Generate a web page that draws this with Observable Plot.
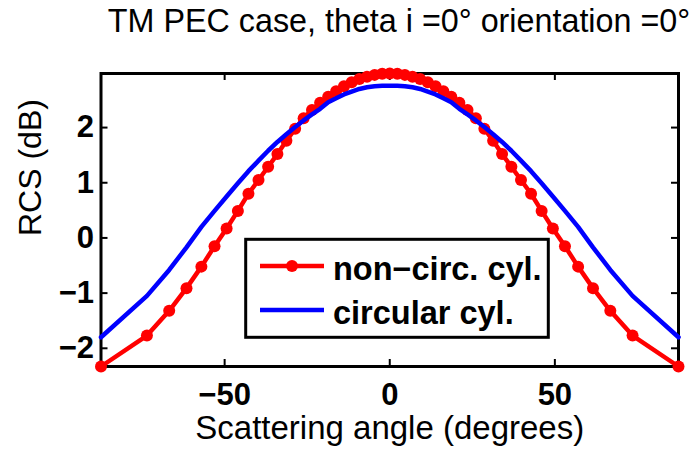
<!DOCTYPE html>
<html><head><meta charset="utf-8">
<script src="https://cdn.jsdelivr.net/npm/d3@7"></script>
<script src="https://cdn.jsdelivr.net/npm/@observablehq/plot@0.6"></script>
<style>
body{margin:0;background:#fff;}
#wrap{position:relative;width:694px;height:449px;overflow:hidden;font-family:"Liberation Sans",Arial,sans-serif;background:#fff;}
#title{position:absolute;top:0;left:0;width:694px;height:45px;}
#title span{position:absolute;left:399px;top:3px;transform:translateX(-50%);white-space:nowrap;font-size:32.3px;color:#000;}
#chart{position:absolute;top:45px;left:0;}
#legend{position:absolute;left:0;top:0;}
</style></head>
<body><div id="wrap"><div id="title"><span>TM PEC case, theta i =0° orientation =0°</span></div><div id="chart"></div>
<svg id="legend" width="694" height="449" font-family="Liberation Sans, Arial, sans-serif">
  <rect x="245.7" y="239.3" width="302.6" height="98" fill="#fff" stroke="#000" stroke-width="3"/>
  <line x1="260" x2="324" y1="266" y2="266" stroke="#ff0000" stroke-width="4.5"/>
  <circle cx="292" cy="266" r="6" fill="#ff0000"/>
  <line x1="260" x2="324" y1="310" y2="310" stroke="#0000ff" stroke-width="4.5"/>
  <text x="333" y="280" font-size="32.5" font-weight="bold">non−circ. cyl.</text>
  <text x="333" y="324" font-size="32.5" font-weight="bold">circular cyl.</text>
</svg></div>
<script>
const angles = [-87.44, -73.53, -66.79, -61.55, -57.04, -53.06, -49.40, -45.99, -42.79, -39.74, -36.83, -34.02, -31.30, -28.65, -26.08, -23.55, -21.08, -18.64, -16.24, -13.87, -11.53, -9.20, -6.89, -4.58, -2.29, 0,
  2.29, 4.58, 6.89, 9.20, 11.53, 13.87, 16.24, 18.64, 21.08, 23.55, 26.08, 28.65, 31.30, 34.02, 36.83, 39.74, 42.79, 45.99, 49.40, 53.06, 57.04, 61.55, 66.79, 73.53, 87.44];
const rcsNonCirc = [-2.33, -1.77, -1.32, -0.91, -0.52, -0.15, 0.17, 0.49, 0.80, 1.05, 1.29, 1.52, 1.76, 1.98, 2.17, 2.32, 2.45, 2.56, 2.66, 2.75, 2.82, 2.88, 2.92, 2.955, 2.975, 2.98,
  2.975, 2.955, 2.92, 2.88, 2.82, 2.75, 2.66, 2.56, 2.45, 2.32, 2.17, 1.98, 1.76, 1.52, 1.29, 1.05, 0.80, 0.49, 0.17, -0.15, -0.52, -0.91, -1.32, -1.77, -2.33];
const rcsCirc = [-1.80, -1.05, -0.58, -0.17, 0.20, 0.49, 0.75, 0.99, 1.21, 1.40, 1.58, 1.74, 1.88, 2.01, 2.13, 2.24, 2.34, 2.46, 2.53, 2.60, 2.65, 2.70, 2.73, 2.75, 2.757, 2.76,
  2.757, 2.75, 2.73, 2.70, 2.65, 2.60, 2.53, 2.46, 2.34, 2.24, 2.13, 2.01, 1.88, 1.74, 1.58, 1.40, 1.21, 0.99, 0.75, 0.49, 0.20, -0.17, -0.58, -1.05, -1.80];
const xTicks = [-50, 0, 50];
const yTicks = [-2, -1, 0, 1, 2];
const xLabel = "Scattering angle (degrees)";
const yLabel = "RCS (dB)";

const rows = angles.map((a, i) => ({angle: a, nonCirc: rcsNonCirc[i], circ: rcsCirc[i]}));
const fmt = d => d < 0 ? "\u2212" + Math.abs(d) : String(d);

const W = 694, H = 404, mL = 100.5, mR = 16, mT = 28, mB = 83;
const fw = W - mL - mR, fh = H - mT - mB;

const chart = Plot.plot({
  width: W, height: H,
  marginLeft: mL, marginRight: mR, marginTop: mT, marginBottom: mB,
  x: {domain: [-87.44, 87.44], axis: null},
  y: {domain: [-2.33, 2.98], axis: null},
  style: {fontFamily: "Liberation Sans, Arial, sans-serif", background: "white", overflow: "visible", color: "black"},
  marks: [
    Plot.frame({stroke: "black", strokeWidth: 3}),
    Plot.ruleX(xTicks, {x: d => d, insetTop: fh - 7, stroke: "black", strokeWidth: 2}),
    Plot.ruleX(xTicks, {x: d => d, insetBottom: fh - 7, stroke: "black", strokeWidth: 2}),
    Plot.ruleY(yTicks, {y: d => d, insetRight: fw - 7, stroke: "black", strokeWidth: 2}),
    Plot.ruleY(yTicks, {y: d => d, insetLeft: fw - 7, stroke: "black", strokeWidth: 2}),
    Plot.text(xTicks, {x: d => d, text: fmt, frameAnchor: "bottom", lineAnchor: "top", dy: 16, fontSize: 31, fontWeight: "bold", fill: "black"}),
    Plot.text(yTicks, {y: d => d, text: fmt, frameAnchor: "left", textAnchor: "end", lineAnchor: "middle", dx: -7, fontSize: 31, fontWeight: "bold", fill: "black"}),
    Plot.text([xLabel], {text: d => d, frameAnchor: "bottom", lineAnchor: "top", dy: 49, fontSize: 33, fill: "black"}),
    Plot.text([yLabel], {text: d => d, frameAnchor: "left", rotate: -90, lineAnchor: "middle", dx: -70, dy: 16, fontSize: 32, fill: "black"}),
    Plot.line(rows, {x: "angle", y: "nonCirc", stroke: "#ff0000", strokeWidth: 4.5}),
    Plot.dot(rows, {x: "angle", y: "nonCirc", r: 6, fill: "#ff0000"}),
    Plot.line(rows, {x: "angle", y: "circ", stroke: "#0000ff", strokeWidth: 4.5})
  ]
});
document.getElementById("chart").appendChild(chart);
</script>
</body></html>
